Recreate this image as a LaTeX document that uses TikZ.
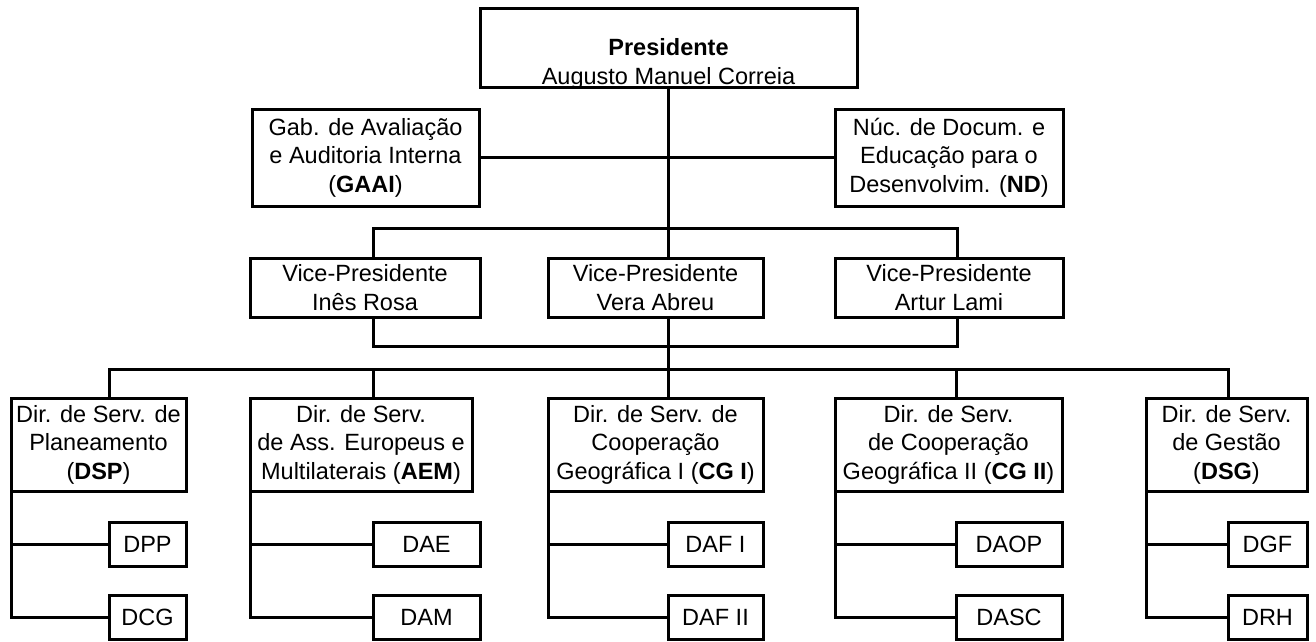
\documentclass[tikz,border=0pt]{standalone}
\usepackage{fontspec}
\setmainfont{Liberation Sans}
\begin{document}
\begin{tikzpicture}[x=1pt,y=-1pt,
  txt/.style={font=\fontsize{23.5}{28.5}\selectfont, align=center, inner sep=0pt},
  box/.style={draw, line width=3pt, inner sep=0pt, outer sep=0pt, txt},
  link/.style={line width=3pt}]
\useasboundingbox (0,0) rectangle (1316,641);
% top
\node[box, minimum width=377pt, minimum height=79pt] (pres) at (668.5,47.5) {};
\node[txt] (prestext) at (668.5,64) {\textbf{Presidente}\\Augusto Manuel Correia};
\node[box, minimum width=227pt, minimum height=97pt] (gaai) at (365.5,157.5) {Gab. de Avaliação\\e Auditoria Interna\\(\textbf{GAAI})};
\node[box, minimum width=228pt, minimum height=97pt] (nd) at (949,157.5) {Núc. de Docum. e\\Educação para o\\Desenvolvim. (\textbf{ND})};
% vice presidents
\node[box, minimum width=230pt, minimum height=59pt] (ines) at (365,287.5) {Vice-Presidente\\Inês Rosa};
\node[box, minimum width=215pt, minimum height=59pt] (vera) at (655.5,287.5) {Vice-Presidente\\Vera Abreu};
\node[box, minimum width=228pt, minimum height=59pt] (artur) at (949,287.5) {Vice-Presidente\\Artur Lami};
% directorates
\node[box, minimum width=175pt, minimum height=93pt] (d1) at (98.5,444.5) {Dir. de Serv. de\\Planeamento\\(\textbf{DSP})};
\node[box, minimum width=222pt, minimum height=93pt] (d2) at (361,444.5) {Dir. de Serv.\\de Ass. Europeus e\\Multilaterais (\textbf{AEM})};
\node[box, minimum width=215pt, minimum height=93pt] (d3) at (655.5,444.5) {Dir. de Serv. de\\Cooperação\\Geográfica I (\textbf{CG I})};
\node[box, minimum width=227pt, minimum height=93pt] (d4) at (948.5,444.5) {Dir. de Serv.\\de Cooperação\\Geográfica II (\textbf{CG II})};
\node[box, minimum width=161pt, minimum height=93pt] (d5) at (1226.5,444.5) {Dir. de Serv.\\de Gestão\\(\textbf{DSG})};
% sub units
\node[box, minimum width=77pt, minimum height=44pt] (s1a) at (147.5,544) {DPP};
\node[box, minimum width=77pt, minimum height=44pt] (s1b) at (147.5,617) {DCG};
\node[box, minimum width=107pt, minimum height=44pt] (s2a) at (426.5,544) {DAE};
\node[box, minimum width=107pt, minimum height=44pt] (s2b) at (426.5,617) {DAM};
\node[box, minimum width=95pt, minimum height=44pt] (s3a) at (715.5,544) {DAF I};
\node[box, minimum width=95pt, minimum height=44pt] (s3b) at (715.5,617) {DAF II};
\node[box, minimum width=106pt, minimum height=44pt] (s4a) at (1009,544) {DAOP};
\node[box, minimum width=106pt, minimum height=44pt] (s4b) at (1009,617) {DASC};
\node[box, minimum width=79pt, minimum height=44pt] (s5a) at (1267.5,544) {DGF};
\node[box, minimum width=79pt, minimum height=44pt] (s5b) at (1267.5,617) {DRH};
% helper coordinates
\coordinate (trunk) at (668,0);
\coordinate (xa) at (373,228);
\coordinate (xc) at (957,228);
\coordinate (ya) at (373,346);
\coordinate (yc) at (957,346);
\coordinate (ym) at (668,346);
\coordinate (b1) at (109,369);
\coordinate (b2) at (373,369);
\coordinate (b3) at (668,369);
\coordinate (b4) at (956,369);
\coordinate (b5) at (1228,369);
% connectors
\draw[link] (pres.south -| trunk) -- (vera.north -| trunk);
\draw[link] (gaai.east) -- (nd.west);
\draw[link] (ines.north -| xa) -- (xa) -- (xc) -- (artur.north -| xc);
\draw[link] (ines.south -| ya) -- (ya) -- (yc) -- (artur.south -| yc);
\draw[link] (vera.south -| trunk) -- (b3);
\draw[link] (d1.north -| b1) -- (b1) -- (b5) -- (d5.north -| b5);
\draw[link] (b2) -- (d2.north -| b2);
\draw[link] (b3) -- (d3.north -| b3);
\draw[link] (b4) -- (d4.north -| b4);
\foreach \i in {1,...,5}{
  \draw[link] (d\i.south west) |- (s\i a.west);
  \draw[link] (d\i.south west) |- (s\i b.west);
}
\end{tikzpicture}
\end{document}
